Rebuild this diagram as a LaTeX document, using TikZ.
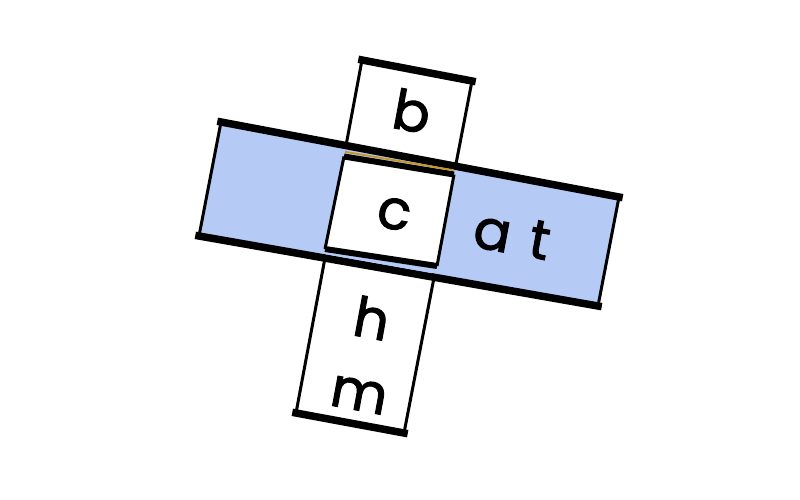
\documentclass[tikz,border=0pt]{standalone}
\usepackage{fontspec}
\newfontfamily\popfont[FakeBold=1.8]{Poppins}
\definecolor{stripblue}{HTML}{B6CAF6}
\definecolor{edgeorange}{HTML}{C8961E}
\tikzset{
  thickedge/.style={line width=7.5pt, line cap=rect},
  thinedge/.style={line width=3pt},
  letter/.style={font=\popfont\fontsize{55}{64}\selectfont, inner sep=0pt, rotate=-10.5, anchor=center},
}
\begin{document}
\begin{tikzpicture}[x=1pt,y=-1pt]
\useasboundingbox (0,0) rectangle (800,500);
% vertical strip
\coordinate (vTL) at (362,60);
\coordinate (vTR) at (472,81);
\coordinate (vBR) at (404,433);
\coordinate (vBL) at (296,413);
\fill[white] (vTL) -- (vTR) -- (vBR) -- (vBL) -- cycle;
\draw[thinedge] (vTL) -- (vBL) (vTR) -- (vBR);
\draw[thickedge] (vTL) -- (vTR);
\draw[thickedge] (vBL) -- (vBR);
% blue strip
\coordinate (hTL) at (221,122);
\coordinate (hTR) at (619,197);
\coordinate (hBR) at (598,306);
\coordinate (hBL) at (199,236);
\fill[stripblue] (hTL) -- (hTR) -- (hBR) -- (hBL) -- cycle;
\draw[thinedge] (hTL) -- (hBL) (hTR) -- (hBR);
\draw[thickedge] (hTL) -- (hTR);
\draw[thickedge] (hBL) -- (hBR);
% c square
\coordinate (cTL) at (344,156.5);
\coordinate (cTR) at (454,174.5);
\coordinate (cBR) at (437,266);
\coordinate (cBL) at (325,249);
\fill[white] (cTL) -- (cTR) -- (cBR) -- (cBL) -- cycle;
\draw[thinedge] (cTL) -- (cBL) (cTR) -- (cBR);
\draw[line width=6pt] (cTL) -- (cTR);
\draw[line width=6pt] (cBL) -- (cBR);
\coordinate (oL) at (345,151.8);
\coordinate (oR) at (454,170.3);
\draw[edgeorange, line width=1.8pt] (oL) -- (oR);
\coordinate (bL) at (326,253.5);
\coordinate (bR) at (432,272.5);
\draw[stripblue, line width=1.4pt] (bL) -- (bR);
% letters
\node[letter] (lb) at (412,111) {b};
\node[letter] (lc) at (394,214) {c};
\node[letter] (lat) at (512,235) {a\hspace{0.35em}t};
\node[letter] (lh) at (372,318) {h};
\node[letter] (lm) at (359,395) {m};
\end{tikzpicture}
\end{document}
